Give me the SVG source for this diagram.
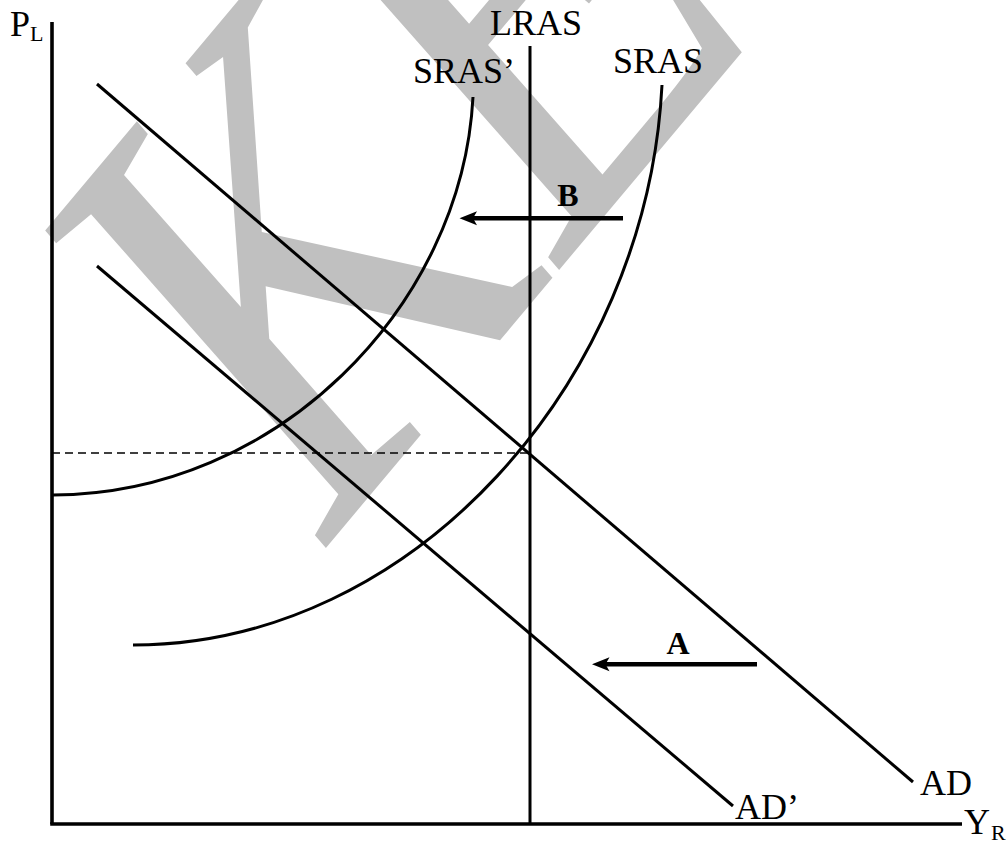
<svg xmlns="http://www.w3.org/2000/svg" width="1007" height="844" viewBox="0 0 1007 844">
<style>
.lbl{font-family:"Liberation Serif","Times New Roman",serif;font-size:36px;fill:#000}
.sub{font-family:"Liberation Serif","Times New Roman",serif;font-size:22px;fill:#000}
.bold{font-family:"Liberation Serif","Times New Roman",serif;font-size:32px;font-weight:bold;fill:#000;text-anchor:middle}
.ln{stroke:#000;stroke-width:3;fill:none}
.ax{stroke:#000;stroke-width:3.6;fill:none}
.wm{font-family:"Liberation Serif","Times New Roman",serif;font-style:italic;font-size:640px;fill:#c0c0c0}
</style>
<rect width="1007" height="844" fill="#fff"/>
<g id="watermark">
<text class="wm" transform="translate(330,543) rotate(-50) scale(0.85,1)">KEY</text>
</g>
<g id="axes">
<line class="ax" x1="52" y1="22" x2="52" y2="824"/>
<line class="ax" x1="50.2" y1="824" x2="962" y2="824"/>
<text class="lbl" x="10" y="36">P</text><text class="sub" x="30" y="41">L</text>
<text class="lbl" x="964" y="834">Y</text><text class="sub" x="991" y="840">R</text>
</g>
<g id="lras">
<line class="ln" x1="530" y1="46" x2="530" y2="824"/>
<text class="lbl" x="490" y="35">LRAS</text>
</g>
<g id="sras">
<path class="ln" d="M133,645 C413,645 647,382 662,85"/>
<text class="lbl" x="613" y="73">SRAS</text>
</g>
<g id="sras2">
<path class="ln" d="M53,495 C275,495 462,308 473,97"/>
<text class="lbl" x="413" y="83">SRAS’</text>
</g>
<g id="ad">
<line class="ln" x1="97" y1="84" x2="913" y2="782"/>
<text class="lbl" x="920" y="795">AD</text>
</g>
<g id="ad2">
<line class="ln" x1="97" y1="266" x2="733" y2="806"/>
<text class="lbl" x="735" y="819">AD’</text>
</g>
<g id="connectors">
<line x1="52" y1="453" x2="530" y2="453" stroke="#000" stroke-width="1.6" stroke-dasharray="8,5"/>
<line x1="623" y1="218.3" x2="472" y2="218.3" stroke="#000" stroke-width="4.5"/>
<polygon points="459.5,218.3 477,211.3 473,218.3 477,225.3" fill="#000"/>
<line x1="757" y1="664.3" x2="605" y2="664.3" stroke="#000" stroke-width="4.5"/>
<polygon points="592,664.3 609.5,657.3 605.5,664.3 609.5,671.3" fill="#000"/>
</g>
<g id="labels">
<text class="bold" x="568" y="206">B</text>
<text class="bold" x="678" y="654">A</text>
</g>
</svg>
